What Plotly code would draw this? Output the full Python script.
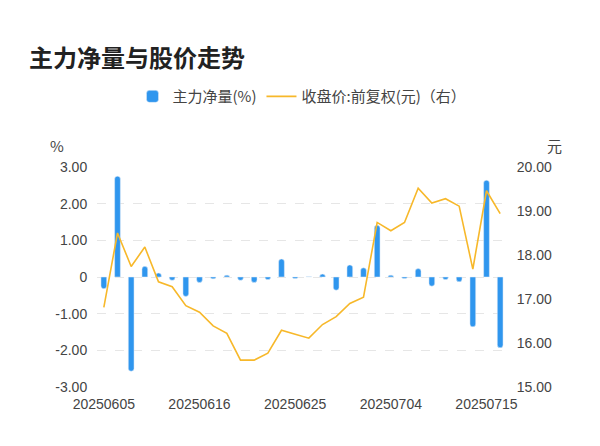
import plotly.graph_objects as go

dates = ["20250605", "20250606", "20250609", "20250610", "20250611", "20250612", "20250613",
         "20250616", "20250617", "20250618", "20250619", "20250620", "20250623", "20250624",
         "20250625", "20250626", "20250627", "20250630", "20250701", "20250702", "20250703",
         "20250704", "20250707", "20250708", "20250709", "20250710", "20250711", "20250714",
         "20250715", "20250716"]
net_vol = [-0.32, 2.75, -2.57, 0.29, 0.11, -0.09, -0.53, -0.15, -0.05, 0.05, -0.09, -0.15,
           -0.07, 0.49, -0.04, 0.01, 0.08, -0.36, 0.33, 0.25, 1.41, 0.05, -0.04, 0.23, -0.25,
           -0.07, -0.13, -1.36, 2.64, -1.93]
price = [16.81, 18.50, 17.74, 18.18, 17.39, 17.28, 16.85, 16.70, 16.39, 16.22, 15.61, 15.61,
         15.77, 16.29, 16.20, 16.11, 16.42, 16.60, 16.90, 17.04, 18.74, 18.55, 18.74, 19.52,
         19.18, 19.28, 19.11, 17.68, 19.46, 18.94]
tick_dates = ["20250605", "20250616", "20250625", "20250704", "20250715"]

tickfont = dict(family="Liberation Sans", size=14, color="#444")

fig = go.Figure()
fig.add_trace(go.Bar(x=dates, y=net_vol, name="主力净量(%)", marker_color="#2f96ee",
                     marker_cornerradius=3, width=0.42))
fig.add_trace(go.Scatter(x=dates, y=price, name="收盘价:前复权(元)（右）", yaxis="y2",
                         mode="lines", line=dict(color="#f7b82a", width=1.6)))

fig.update_layout(
    width=600, height=446,
    paper_bgcolor="white", plot_bgcolor="white",
    font=dict(family="Noto Sans CJK SC", color="#333"),
    title=dict(text="<b>主力净量与股价走势</b>", x=0.035, y=0.905, font=dict(size=24, color="#222")),
    margin=dict(l=89, r=101, t=159, b=67, autoexpand=False),
    showlegend=True,
    legend=dict(orientation="h", x=0.5, xanchor="center", y=1.32, yanchor="middle",
                font=dict(size=15, color="#444"), itemwidth=30),
    xaxis=dict(type="category", tickvals=tick_dates, ticktext=tick_dates, showgrid=False,
               showline=False, ticks="outside", ticklen=4, tickcolor="white",
               tickfont=tickfont),
    yaxis=dict(range=[-3, 3], tickvals=[-3, -2, -1, 0, 1, 2, 3],
               ticktext=["-3.00", "-2.00", "-1.00", "0", "1.00", "2.00", "3.00"],
               gridcolor="#e6e6e6", griddash="dash", zeroline=False,
               ticks="outside", ticklen=6, tickcolor="white", tickfont=tickfont),
    yaxis2=dict(range=[15, 20], tickvals=[15, 16, 17, 18, 19, 20], tickformat=".2f",
                overlaying="y", side="right", showgrid=False, zeroline=False,
                ticks="outside", ticklen=6, tickcolor="white", tickfont=tickfont),
    annotations=[
        dict(text="%", xref="paper", yref="paper", x=-0.12, y=1.155, showarrow=False,
             font=dict(size=15, color="#444")),
        dict(text="元", xref="paper", yref="paper", x=1.14, y=1.155, showarrow=False,
             font=dict(size=15, color="#444")),
    ],
)

fig.write_html("out.html")
